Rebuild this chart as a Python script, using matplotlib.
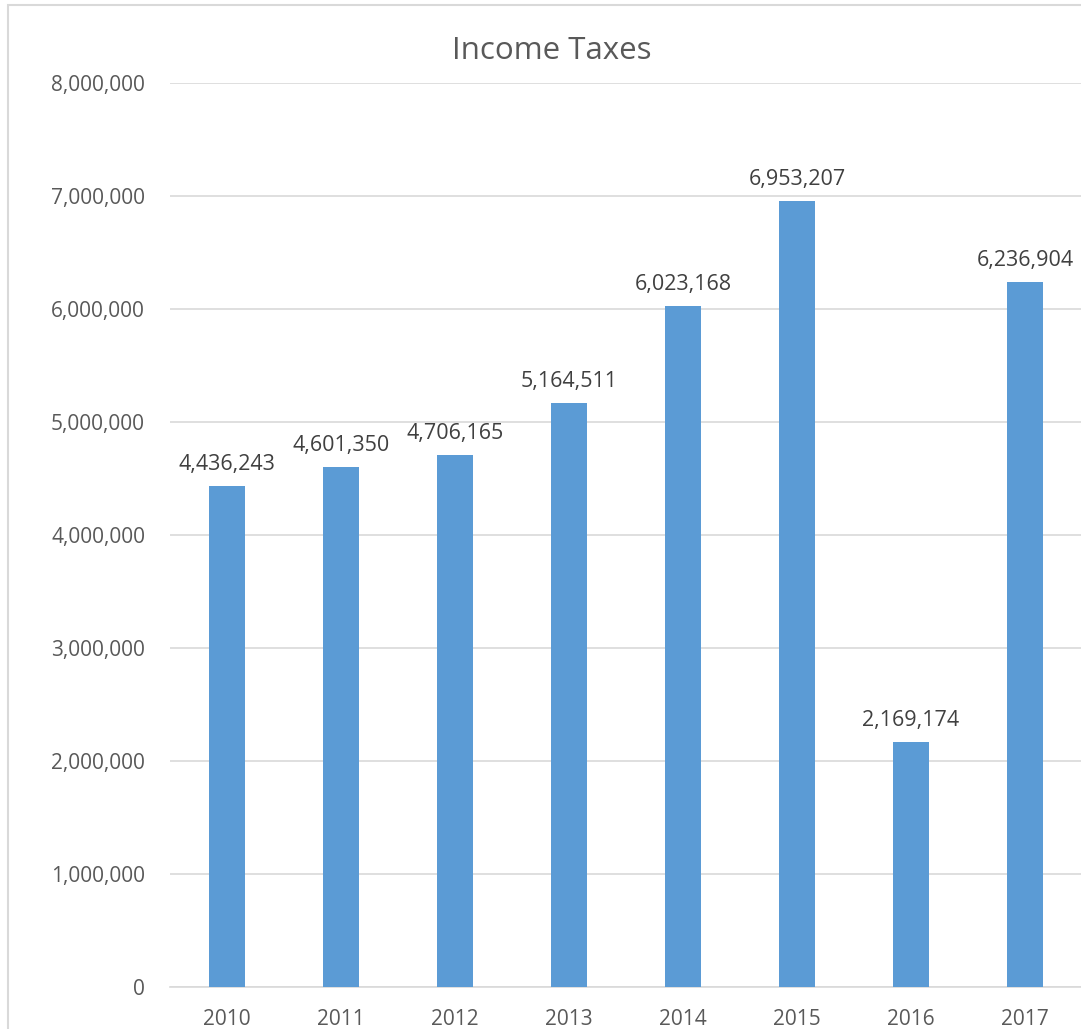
import matplotlib.pyplot as plt
from matplotlib.patches import Rectangle
from matplotlib.ticker import FuncFormatter

years = ['2010', '2011', '2012', '2013', '2014', '2015', '2016', '2017']
taxes = [4436243, 4601350, 4706165, 5164511, 6023168, 6953207, 2169174, 6236904]
yticks = [0, 1000000, 2000000, 3000000, 4000000, 5000000, 6000000, 7000000, 8000000]

plt.rcParams['font.family'] = ['Open Sans', 'DejaVu Sans']

fig = plt.figure(figsize=(10.81, 10.29), dpi=100)
# chart area border (cut off at right and bottom like the reference)
fig.patches.append(Rectangle((8 / 1081, -0.1), 1.2, 1 - 5 / 1029 + 0.1,
                             transform=fig.transFigure, fill=False,
                             edgecolor='#d9d9d9', linewidth=1.5))

ax = fig.add_axes([170 / 1081, 42 / 1029, 912 / 1081, 904 / 1029])
x = range(len(years))
bars = ax.bar(x, taxes, width=0.32, color='#5b9bd5', zorder=3)

for xi, v in zip(x, taxes):
    ax.annotate(f'{v:,}', (xi, v), xytext=(0, 8), textcoords='offset points',
                ha='center', va='bottom', fontsize=15.5, color='#404040')

ax.set_xlim(-0.5, len(years) - 0.5)
ax.set_ylim(0, 8000000)
ax.set_yticks(yticks)
ax.yaxis.set_major_formatter(FuncFormatter(lambda v, p: f'{int(v):,}'))
ax.set_xticks(list(x))
ax.set_xticklabels(years)
ax.tick_params(axis='both', length=0, labelsize=15, labelcolor='#595959')
ax.tick_params(axis='y', pad=18)
ax.tick_params(axis='x', pad=16)

ax.grid(axis='y', color='#d9d9d9', linewidth=1.2, zorder=0)
for s in ['top', 'right', 'left']:
    ax.spines[s].set_visible(False)
ax.spines['bottom'].set_color('#d9d9d9')
ax.spines['bottom'].set_linewidth(1.2)

fig.text(552 / 1081, 1 - 51 / 1029, 'Income Taxes', ha='center', va='center',
         fontsize=22.5, color='#595959')

fig.savefig('out.png', dpi=100)
